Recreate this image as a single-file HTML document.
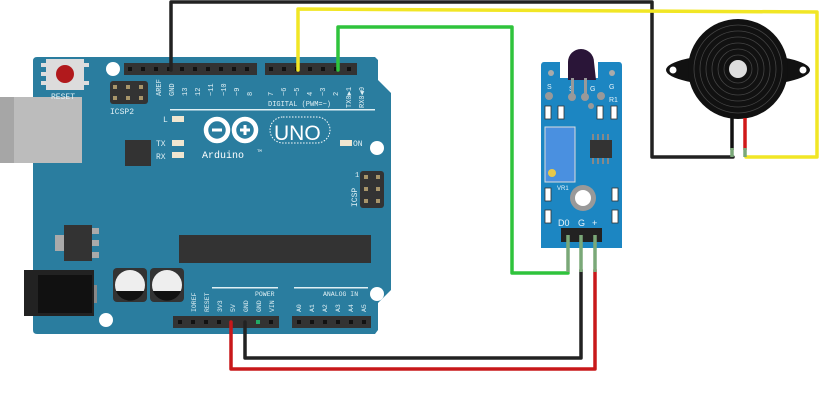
<!DOCTYPE html>
<html><head><style>html,body{margin:0;padding:0;background:#fff;}svg{display:block}</style></head>
<body>
<svg width="825" height="400" viewBox="0 0 825 400" xmlns="http://www.w3.org/2000/svg" font-family="Liberation Mono, monospace">
<!-- USB -->
<rect x="0" y="97" width="82" height="66" fill="#b8b8b8"/>
<rect x="0" y="103" width="14" height="54" fill="#a0a0a0"/>
<rect x="33" y="92" width="9" height="6" fill="#aaa"/>
<rect x="33" y="162" width="9" height="6" fill="#aaa"/>
<!-- Board -->
<path d="M37,57 L375,57 L378,60 L378,80 L391,93 L391,290 L378,303 L378,330 L375,334 L37,334 Q33,334 33,330 L33,163 L82,163 L82,97 L33,97 L33,61 Q33,57 37,57Z" fill="#2a7d9f"/>
<rect x="0" y="97" width="82" height="66" fill="#bcbcbc"/>
<rect x="0" y="97" width="14" height="66" fill="#a6a6a6"/>
<!-- reset -->
<rect x="46" y="59" width="38" height="31" fill="#dcdcdc"/>
<rect x="41" y="63" width="5" height="4" fill="#ddd"/><rect x="41" y="72" width="5" height="4" fill="#ddd"/><rect x="41" y="81" width="5" height="4" fill="#ddd"/>
<rect x="84" y="63" width="5" height="4" fill="#ddd"/><rect x="84" y="81" width="5" height="4" fill="#ddd"/>
<circle cx="65" cy="74" r="9" fill="#b1191c"/>
<text x="51" y="99" font-size="8" fill="#e0f0f4">RESET</text>
<circle cx="113" cy="69" r="7" fill="#fff"/>
<!-- ICSP2 -->
<rect x="110" y="81" width="38" height="23" rx="3" fill="#333"/>
<g fill="#a8956a"><rect x="113" y="85" width="4" height="4"/><rect x="126" y="85" width="4" height="4"/><rect x="139" y="85" width="4" height="4"/><rect x="113" y="96" width="4" height="4"/><rect x="126" y="96" width="4" height="4"/><rect x="139" y="96" width="4" height="4"/></g>
<text x="110" y="114" font-size="8" fill="#e0f0f4">ICSP2</text>
<!-- top headers -->
<rect x="124" y="63" width="133" height="12" fill="#333"/>
<rect x="265" y="63" width="92" height="12" fill="#333"/>
<g fill="#111">
<rect x="128" y="67" width="4" height="4"/><rect x="141" y="67" width="4" height="4"/><rect x="154" y="67" width="4" height="4"/><rect x="167" y="67" width="4" height="4"/><rect x="180" y="67" width="4" height="4"/><rect x="193" y="67" width="4" height="4"/><rect x="206" y="67" width="4" height="4"/><rect x="219" y="67" width="4" height="4"/><rect x="232" y="67" width="4" height="4"/><rect x="245" y="67" width="4" height="4"/>
<rect x="269" y="67" width="4" height="4"/><rect x="282" y="67" width="4" height="4"/><rect x="295" y="67" width="4" height="4"/><rect x="308" y="67" width="4" height="4"/><rect x="321" y="67" width="4" height="4"/><rect x="334" y="67" width="4" height="4"/><rect x="347" y="67" width="4" height="4"/>
</g>
<g font-size="7" fill="#e0f0f4">
<text transform="translate(161,96) rotate(-90)">AREF</text>
<text transform="translate(174,96) rotate(-90)">GND</text>
<text transform="translate(187,96) rotate(-90)">13</text>
<text transform="translate(200,96) rotate(-90)">12</text>
<text transform="translate(213,96) rotate(-90)">~11</text>
<text transform="translate(226,96) rotate(-90)">~10</text>
<text transform="translate(239,96) rotate(-90)">~9</text>
<text transform="translate(252,96) rotate(-90)">8</text>
<text transform="translate(273,96) rotate(-90)">7</text>
<text transform="translate(286,96) rotate(-90)">~6</text>
<text transform="translate(299,96) rotate(-90)">~5</text>
<text transform="translate(312,96) rotate(-90)">4</text>
<text transform="translate(325,96) rotate(-90)">~3</text>
<text transform="translate(338,96) rotate(-90)">2</text>
<text transform="translate(351,108) rotate(-90)">TX0▶1</text>
<text transform="translate(364,108) rotate(-90)">RX0◀0</text>
<text x="268" y="106">DIGITAL (PWM=~)</text>
</g>
<rect x="170" y="109" width="205" height="1.5" fill="#e0f0f4"/>
<!-- LEDs -->
<text x="163" y="122" font-size="8" fill="#e0f0f4">L</text>
<rect x="172" y="116" width="12" height="6" fill="#f0e6d0"/>
<text x="156" y="146" font-size="8" fill="#e0f0f4">TX</text>
<rect x="172" y="140" width="12" height="6" fill="#f0e6d0"/>
<text x="156" y="159" font-size="8" fill="#e0f0f4">RX</text>
<rect x="172" y="152" width="12" height="6" fill="#f0e6d0"/>
<rect x="340" y="140" width="12" height="6" fill="#f0e6d0"/>
<text x="353" y="146" font-size="8" fill="#e0f0f4">ON</text>
<!-- logo -->
<g fill="none" stroke="#fff" stroke-width="4.5">
<circle cx="217" cy="130" r="11"/><circle cx="245" cy="130" r="11"/>
</g>
<rect x="212" y="128.5" width="10" height="3" fill="#fff"/>
<rect x="240" y="128.5" width="10" height="3" fill="#fff"/>
<rect x="243.5" y="125" width="3" height="10" fill="#fff"/>
<rect x="270" y="117" width="60" height="26" rx="13" fill="none" stroke="#fff" stroke-width="1" stroke-dasharray="1.5 1.5"/>
<text x="274" y="140" font-family="Liberation Sans, sans-serif" font-size="21" fill="#fff">UNO</text>
<text x="202" y="158" font-size="10" fill="#fff">Arduino</text>
<text x="257" y="152" font-size="4" fill="#fff">TM</text>
<circle cx="377" cy="148" r="7" fill="#fff"/>
<!-- chip -->
<rect x="125" y="140" width="26" height="26" fill="#333"/>
<!-- ICSP -->
<text x="355" y="177" font-size="7" fill="#e0f0f4">1</text>
<rect x="360" y="171" width="24" height="37" rx="3" fill="#333"/>
<g fill="#a8956a"><rect x="364" y="175" width="4" height="4"/><rect x="376" y="175" width="4" height="4"/><rect x="364" y="187" width="4" height="4"/><rect x="376" y="187" width="4" height="4"/><rect x="364" y="199" width="4" height="4"/><rect x="376" y="199" width="4" height="4"/></g>
<text transform="translate(357,207) rotate(-90)" font-size="8" fill="#e0f0f4">ICSP</text>
<!-- regulator -->
<rect x="64" y="225" width="28" height="36" fill="#333"/>
<rect x="55" y="235" width="9" height="16" fill="#aaa"/>
<rect x="92" y="228" width="7" height="6" fill="#aaa"/><rect x="92" y="240" width="7" height="6" fill="#aaa"/><rect x="92" y="252" width="7" height="6" fill="#aaa"/>
<!-- big chip -->
<rect x="179" y="235" width="192" height="28" fill="#333"/>
<!-- power jack -->
<rect x="24" y="270" width="70" height="46" fill="#222"/>
<rect x="38" y="275" width="54" height="38" fill="#111"/>
<rect x="94" y="285" width="3" height="18" fill="#888"/>
<!-- caps -->
<rect x="113" y="268" width="34" height="34" rx="4" fill="#333"/>
<rect x="150" y="268" width="34" height="34" rx="4" fill="#333"/>
<circle cx="130" cy="285" r="15" fill="#eee"/>
<circle cx="167" cy="285" r="15" fill="#eee"/>
<path d="M116,291 A15,15 0 0 0 144,291Z" fill="#111"/>
<path d="M153,291 A15,15 0 0 0 181,291Z" fill="#111"/>
<circle cx="106" cy="320" r="7" fill="#fff"/>
<circle cx="377" cy="294" r="7" fill="#fff"/>
<!-- bottom headers -->
<rect x="212" y="287" width="66" height="1.5" fill="#e0f0f4"/>
<rect x="294" y="287" width="74" height="1.5" fill="#e0f0f4"/>
<g font-size="6.5" fill="#e0f0f4">
<text x="255" y="296">POWER</text>
<text x="323" y="296">ANALOG IN</text>
<text transform="translate(196,312) rotate(-90)">IOREF</text>
<text transform="translate(209,312) rotate(-90)">RESET</text>
<text transform="translate(222,312) rotate(-90)">3V3</text>
<text transform="translate(235,312) rotate(-90)">5V</text>
<text transform="translate(248,312) rotate(-90)">GND</text>
<text transform="translate(261,312) rotate(-90)">GND</text>
<text transform="translate(274,312) rotate(-90)">VIN</text>
<text transform="translate(301,312) rotate(-90)">A0</text>
<text transform="translate(314,312) rotate(-90)">A1</text>
<text transform="translate(327,312) rotate(-90)">A2</text>
<text transform="translate(340,312) rotate(-90)">A3</text>
<text transform="translate(353,312) rotate(-90)">A4</text>
<text transform="translate(366,312) rotate(-90)">A5</text>
</g>
<rect x="173" y="316" width="106" height="12" fill="#333"/>
<rect x="292" y="316" width="79" height="12" fill="#333"/>
<g fill="#111">
<rect x="178" y="320" width="4" height="4"/><rect x="191" y="320" width="4" height="4"/><rect x="204" y="320" width="4" height="4"/><rect x="217" y="320" width="4" height="4"/><rect x="256" y="320" width="4" height="4"/><rect x="269" y="320" width="4" height="4"/>
<rect x="297" y="320" width="4" height="4"/><rect x="310" y="320" width="4" height="4"/><rect x="323" y="320" width="4" height="4"/><rect x="336" y="320" width="4" height="4"/><rect x="349" y="320" width="4" height="4"/><rect x="362" y="320" width="4" height="4"/>
</g>
<rect x="256" y="320" width="4" height="4" fill="#2a6"/>

<!-- Sensor module -->
<path d="M544,62 L560,62 L560,78 L598,78 L598,62 L619,62 Q622,62 622,66 L622,248 L541,248 L541,66 Q541,62 544,62Z" fill="#1c86c2"/>
<circle cx="551" cy="73" r="3" fill="#aaa"/><circle cx="612" cy="73" r="3" fill="#aaa"/>
<g font-family="Liberation Sans, sans-serif" font-size="7" fill="#e8f4fa">
<text x="547" y="89">S</text><text x="569" y="91">S</text><text x="590" y="91">G</text><text x="609" y="89">G</text><text x="609" y="102">R1</text>
</g>
<g fill="#999"><circle cx="549" cy="96" r="4"/><circle cx="572" cy="97" r="4"/><circle cx="585" cy="97" r="4"/><circle cx="601" cy="96" r="4"/><circle cx="591" cy="106" r="3"/></g>
<path d="M568,62 A13,13 0 0 1 594,62 L596,80 L568,80Z" fill="#2a1538"/>
<rect x="571" y="78" width="3" height="18" fill="#999"/><rect x="584" y="78" width="3" height="18" fill="#999"/>
<g fill="#fff" stroke="#333" stroke-width="0.8">
<rect x="545" y="106" width="6" height="13"/><rect x="558" y="106" width="6" height="13"/><rect x="597" y="106" width="6" height="13"/><rect x="611" y="106" width="6" height="13"/>
<rect x="545" y="188" width="6" height="13"/><rect x="612" y="188" width="6" height="13"/>
<rect x="545" y="210" width="6" height="13"/><rect x="612" y="210" width="6" height="13"/>
</g>
<rect x="545" y="127" width="30" height="55" fill="#4a90e0" stroke="#ddd" stroke-width="1"/>
<circle cx="552" cy="173" r="4" fill="#e8c84a"/>
<rect x="590" y="140" width="22" height="18" fill="#333"/>
<g fill="#888"><rect x="592" y="134" width="2" height="6"/><rect x="597" y="134" width="2" height="6"/><rect x="602" y="134" width="2" height="6"/><rect x="607" y="134" width="2" height="6"/><rect x="592" y="158" width="2" height="6"/><rect x="597" y="158" width="2" height="6"/><rect x="602" y="158" width="2" height="6"/><rect x="607" y="158" width="2" height="6"/></g>
<text x="557" y="190" font-family="Liberation Sans, sans-serif" font-size="6" fill="#e8f4fa">VR1</text>
<circle cx="583" cy="198" r="13" fill="#999"/><circle cx="583" cy="198" r="8" fill="#fff"/>
<g font-family="Liberation Sans, sans-serif" font-size="9" fill="#e8f4fa">
<text x="558" y="226">D0</text><text x="578" y="226">G</text><text x="592" y="226">+</text>
</g>
<rect x="561" y="228" width="41" height="14" fill="#222"/>
<!-- wires -->
<g fill="none" stroke-linejoin="round" stroke-linecap="round">
<path d="M171,70 L171,2 L652,2 L652,157 L733,157" stroke="#222" stroke-width="3.5"/>
<path d="M298,70 L298,9 L817,12 L817,157 L746,157" stroke="#f1e625" stroke-width="3.5"/>
<path d="M338,70 L338,27 L512,27 L512,273 L568,273" stroke="#2fc33c" stroke-width="3.5"/>
<path d="M231,322 L231,369 L595,369 L595,270" stroke="#c8181a" stroke-width="3.5"/>
<path d="M245,322 L245,358 L581,358 L581,270" stroke="#222" stroke-width="3.5"/>
</g>
<g stroke="#7aa878" stroke-width="3.5"><line x1="568" y1="235" x2="568" y2="272"/><line x1="581" y1="235" x2="581" y2="272"/><line x1="595" y1="235" x2="595" y2="272"/></g>
<!-- buzzer -->
<ellipse cx="738" cy="70" rx="72" ry="16" fill="#111"/>
<circle cx="673" cy="70" r="3.5" fill="#fff"/><circle cx="803" cy="70" r="3.5" fill="#fff"/>
<circle cx="738" cy="69" r="50" fill="#111"/>
<g fill="none" stroke="#444" stroke-width="0.8"><circle cx="738" cy="69" r="44"/><circle cx="738" cy="69" r="38"/><circle cx="738" cy="69" r="32"/><circle cx="738" cy="69" r="26"/><circle cx="738" cy="69" r="20"/><circle cx="738" cy="69" r="14"/></g>
<circle cx="738" cy="69" r="9" fill="#ddd"/>
<line x1="732" y1="118" x2="732" y2="150" stroke="#111" stroke-width="3.5"/>
<line x1="745" y1="118" x2="745" y2="150" stroke="#d01818" stroke-width="3.5"/>
<line x1="732" y1="148" x2="732" y2="157" stroke="#7aa878" stroke-width="3.5"/>
<line x1="745" y1="148" x2="745" y2="157" stroke="#7aa878" stroke-width="3.5"/>
</svg>
</body></html>
